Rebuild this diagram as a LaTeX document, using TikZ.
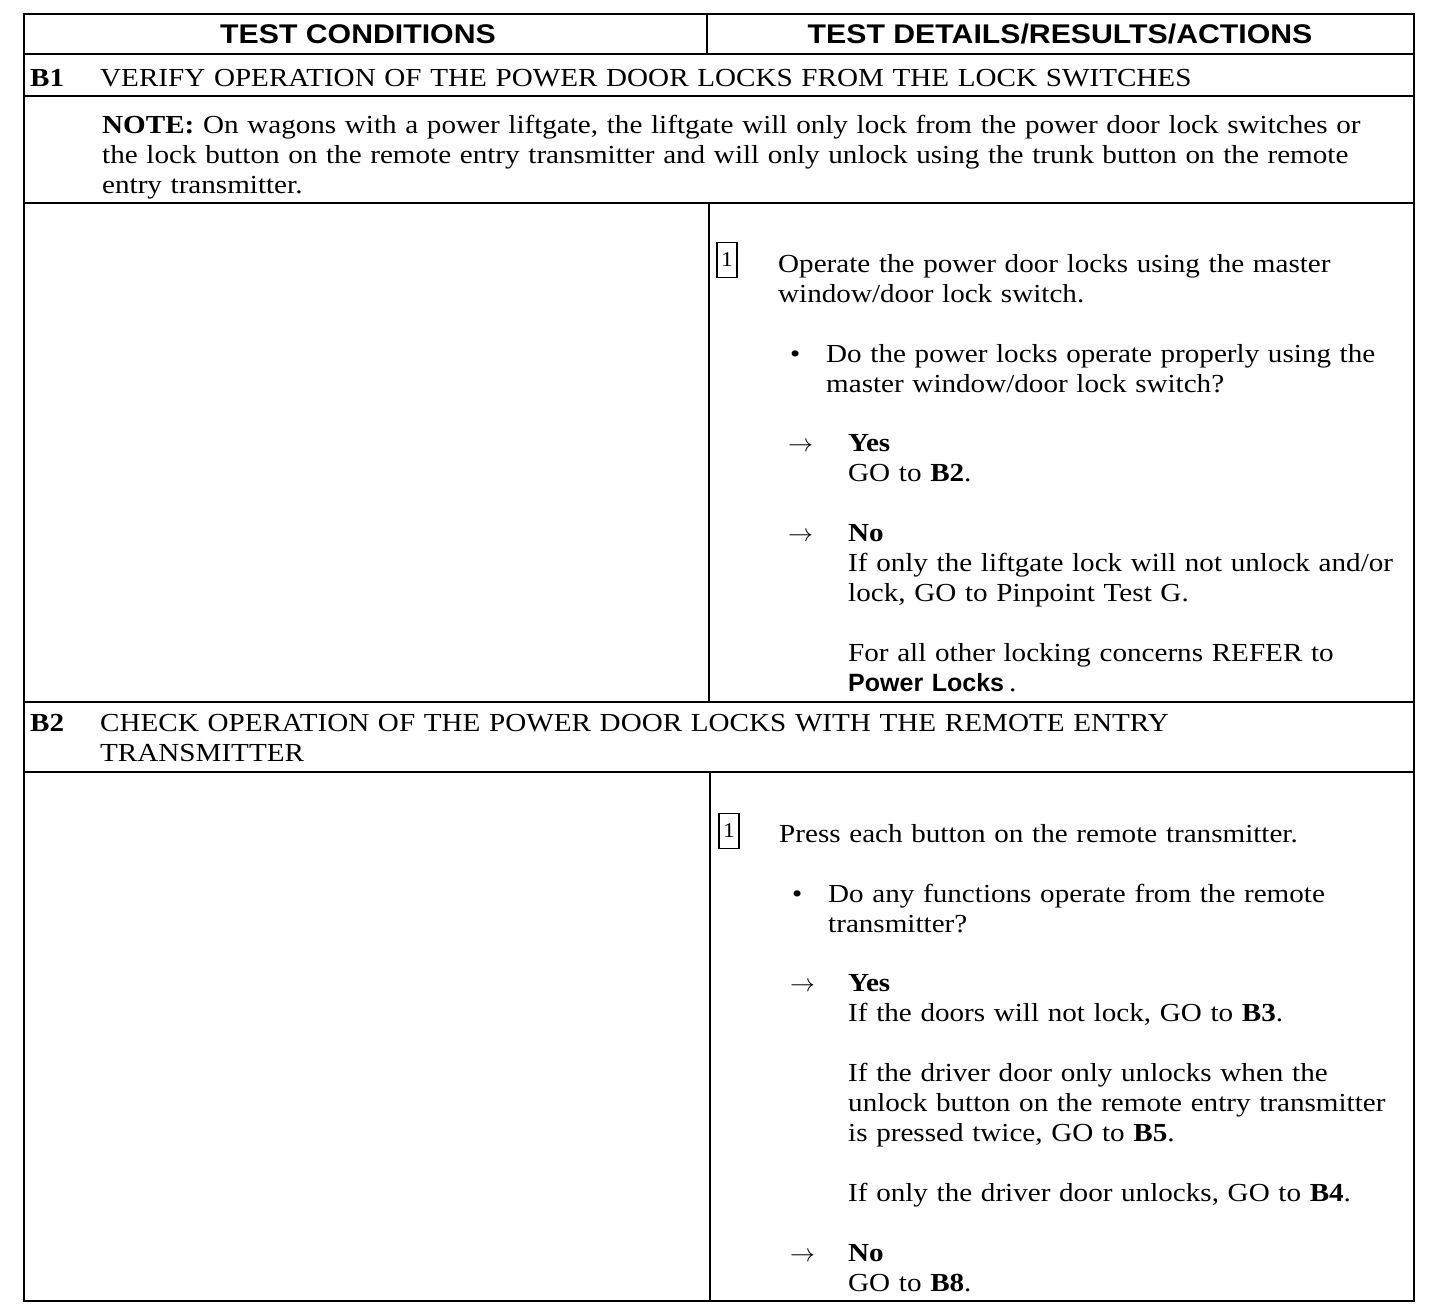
\documentclass[tikz,border=0pt]{standalone}
\usepackage{fontspec}
\setmainfont{Liberation Serif}[FakeStretch=1.12]
\newfontfamily\hdrfont{Liberation Sans}[FakeStretch=1.12]
\newfontfamily\refont{Liberation Sans}
\begin{document}
\begin{tikzpicture}[x=1pt,y=-1pt,
    rule/.style={line width=2pt},
    txt/.style={anchor=base west,inner sep=0pt,align=left,text width=#1,
      font=\fontsize{26}{30}\selectfont},
    txt/.default=600pt,
    hdr/.style={anchor=base,inner sep=0pt,font=\hdrfont\bfseries\fontsize{27}{30}\selectfont},
    numbox/.style={draw,line width=1.2pt,minimum width=20pt,minimum height=35pt,
      inner sep=0pt,font=\fontsize{21}{21}\selectfont},
    glyph/.style={anchor=base west,inner sep=0pt,font=\fontsize{26}{30}\selectfont}]
    \useasboundingbox (0,0) rectangle (1456,1310);

    % table rules
    \draw[rule] (24,14) rectangle (1414,1301);
    \draw[rule] (24,54) -- (1414,54);
    \draw[rule] (24,96) -- (1414,96);
    \draw[rule] (24,203) -- (1414,203);
    \draw[rule] (24,702) -- (1414,702);
    \draw[rule] (24,772) -- (1414,772);
    \draw[rule] (707,14) -- (707,54);
    \draw[rule] (709,203) -- (709,702);
    \draw[rule] (710,772) -- (710,1301);

    % header
    \node[hdr] (hcond) at (358,43) {TEST CONDITIONS};
    \node[hdr] (hdet) at (1060,43) {TEST DETAILS/RESULTS/ACTIONS};

    % B1
    \node[glyph] (b1) at (30,86) {\textbf{B1}};
    \node[txt=1320pt] (b1title) at (100,86) {VERIFY OPERATION OF THE POWER DOOR LOCKS FROM THE LOCK SWITCHES};
    \node[txt=1320pt] (note) at (102,133) {\textbf{NOTE:} On wagons with a power liftgate, the liftgate will only lock from the power door lock switches or\\
      the lock button on the remote entry transmitter and will only unlock using the trunk button on the remote\\
      entry transmitter.};

    \node[numbox] (b1step) at (727,260) {1};
    \node[txt] (b1op) at (778,272) {Operate the power door locks using the master\\window/door lock switch.};
    \node[glyph] (b1dot) at (790,362) {\textbullet};
    \node[txt] (b1ask) at (826,362) {Do the power locks operate properly using the\\master window/door lock switch?};
    \node[glyph] (b1yarr) at (788,451) {$\rightarrow$};
    \node[txt] (b1yes) at (848,451) {\textbf{Yes}\\GO to \textbf{B2}.};
    \node[glyph] (b1narr) at (788,541) {$\rightarrow$};
    \node[txt] (b1no) at (848,541) {\textbf{No}\\If only the liftgate lock will not unlock and/or\\lock, GO to Pinpoint Test G.\\[30pt]
      For all other locking concerns REFER to\\{\refont\bfseries\fontsize{25}{30}\selectfont Power Locks}\hspace{5pt}.};

    % B2
    \node[glyph] (b2) at (30,731) {\textbf{B2}};
    \node[txt=1320pt] (b2title) at (100,731) {CHECK OPERATION OF THE POWER DOOR LOCKS WITH THE REMOTE ENTRY\\TRANSMITTER};

    \node[numbox] (b2step) at (729,831) {1};
    \node[txt] (b2op) at (779,842) {Press each button on the remote transmitter.};
    \node[glyph] (b2dot) at (792,902) {\textbullet};
    \node[txt] (b2ask) at (828,902) {Do any functions operate from the remote\\transmitter?};
    \node[glyph] (b2yarr) at (790,991) {$\rightarrow$};
    \node[txt] (b2yes) at (848,991) {\textbf{Yes}\\If the doors will not lock, GO to \textbf{B3}.\\[30pt]
      If the driver door only unlocks when the\\unlock button on the remote entry transmitter\\is pressed twice, GO to \textbf{B5}.\\[30pt]
      If only the driver door unlocks, GO to \textbf{B4}.};
    \node[glyph] (b2narr) at (790,1261) {$\rightarrow$};
    \node[txt] (b2no) at (848,1261) {\textbf{No}\\GO to \textbf{B8}.};
\end{tikzpicture}
\end{document}
